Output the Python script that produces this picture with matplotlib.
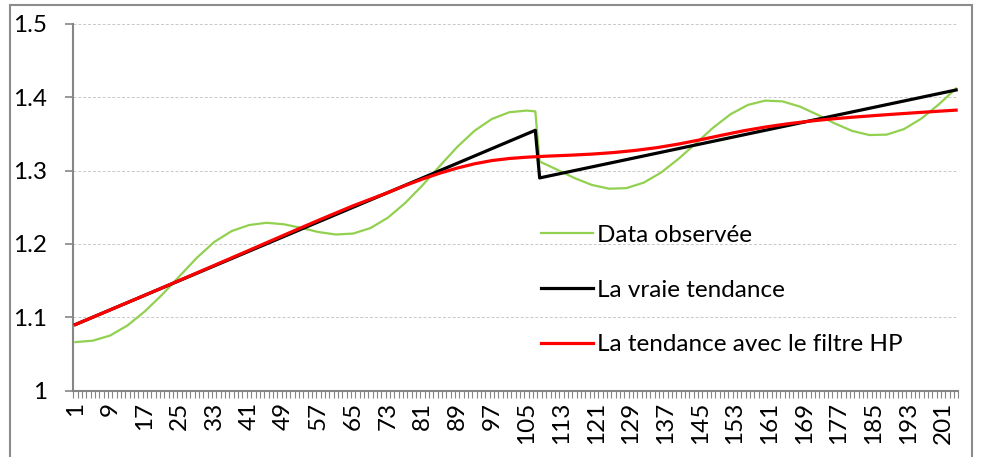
import matplotlib
matplotlib.use("Agg")
import matplotlib.pyplot as plt
from matplotlib.patches import Rectangle

green_x = [1, 5, 9, 13, 17, 21, 25, 29, 33, 37, 41, 45, 49, 53, 57, 61, 65, 69,
           73, 77, 81, 85, 89, 93, 97, 101, 105, 107, 108, 112, 116, 120, 124,
           128, 132, 136, 140, 144, 148, 152, 156, 160, 164, 168, 172, 176, 180,
           184, 188, 192, 196, 200, 204]
green_y = [1.066, 1.068, 1.075, 1.0888, 1.108, 1.1309, 1.1561, 1.1812, 1.2027,
           1.2175, 1.2257, 1.2288, 1.2268, 1.2219, 1.2162, 1.2128, 1.2141, 1.2216,
           1.2357, 1.2558, 1.2800, 1.3064, 1.3323, 1.3544, 1.3705, 1.3796, 1.3819,
           1.3808, 1.3123, 1.3014, 1.2899, 1.2805, 1.2753, 1.2761, 1.2836, 1.2974,
           1.3160, 1.3371, 1.3586, 1.3769, 1.3896, 1.3955, 1.3944, 1.3873, 1.3764,
           1.3644, 1.3542, 1.3485, 1.3491, 1.3567, 1.3710, 1.3903, 1.4121]

# True trend (piecewise linear, break after 107)
trend_x = [1, 107, 108, 204]
trend_y = [1.09, 1.355, 1.29, 1.41]

# HP filter trend
hp_x = [1, 9, 17, 25, 33, 41, 49, 57, 65, 73, 77, 81, 85, 89, 93, 97, 101, 105,
        110, 115, 120, 125, 130, 135, 140, 145, 150, 155, 160, 165, 170, 175,
        180, 185, 190, 195, 200, 204]
hp_y = [1.0900, 1.1100, 1.1300, 1.1503, 1.1707, 1.1912, 1.2118, 1.2322, 1.2520,
        1.2700, 1.2797, 1.2885, 1.2965, 1.3035, 1.3093, 1.3137, 1.3165, 1.3183,
        1.3198, 1.3210, 1.3225, 1.3246, 1.3275, 1.3313, 1.3362, 1.3420, 1.3483,
        1.3543, 1.3594, 1.3637, 1.3673, 1.3703, 1.3728, 1.3750, 1.3771, 1.3791,
        1.3810, 1.3825]

labels = ["Data observée", "La vraie tendance", "La tendance avec le filtre HP"]
n_cat = 204
xtick_pos = list(range(1, 202, 8))
ytick_pos = [1.0, 1.1, 1.2, 1.3, 1.4, 1.5]
ytick_labels = ["1", "1.1", "1.2", "1.3", "1.4", "1.5"]

plt.rcParams["font.family"] = ["Lato", "DejaVu Sans"]
fs = 17.5
W, H = 981, 457

fig = plt.figure(figsize=(W / 100, H / 100), dpi=100)
ax = fig.add_axes([73.3 / W, 1 - 390.5 / H, (958.3 - 73.3) / W, (390.5 - 24) / H])

ax.plot(green_x, green_y, color="#92D050", lw=1.6, label=labels[0], zorder=3)
ax.plot(trend_x, trend_y, color="black", lw=2.3, label=labels[1], zorder=4)
ax.plot(hp_x, hp_y, color="#FF0000", lw=2.3, label=labels[2], zorder=5)

ax.set_xlim(0.5, n_cat + 0.5)
ax.set_ylim(1.0, 1.5)

ax.set_yticks(ytick_pos)
ax.set_yticklabels(ytick_labels, fontsize=fs)
ax.set_xticks(xtick_pos)
ax.set_xticklabels([str(v) for v in xtick_pos], rotation=90, fontsize=fs)
ax.set_xticks([i + 0.5 for i in range(0, n_cat + 1)], minor=True)
ax.tick_params(axis="x", which="major", length=0, pad=8)
ax.tick_params(axis="x", which="minor", length=5, width=0.8, color="#868686", direction="out")
ax.tick_params(axis="y", which="major", length=6, width=1.2, color="#868686", pad=13)

ax.grid(axis="y", color="#c8c8c8", lw=0.7, ls=(0, (3, 2)), zorder=0)
for side in ["top", "right"]:
    ax.spines[side].set_visible(False)
for side in ["left", "bottom"]:
    ax.spines[side].set_color("#868686")
    ax.spines[side].set_linewidth(1.5)

ax.legend(loc="center left", bbox_to_anchor=(541 / W, 1 - 290 / H),
          bbox_transform=fig.transFigure, frameon=False, fontsize=fs,
          handlelength=2.14, handletextpad=0.15, labelspacing=1.38,
          borderpad=0, borderaxespad=0)

# outer chart border
fig.patches.append(Rectangle((10 / W, -0.1), (971.7 - 10) / W, 1.1 - 5 / H,
                             transform=fig.transFigure, fill=False,
                             edgecolor="#8c8c8c", lw=1.5))

fig.savefig("out.png", dpi=100)
